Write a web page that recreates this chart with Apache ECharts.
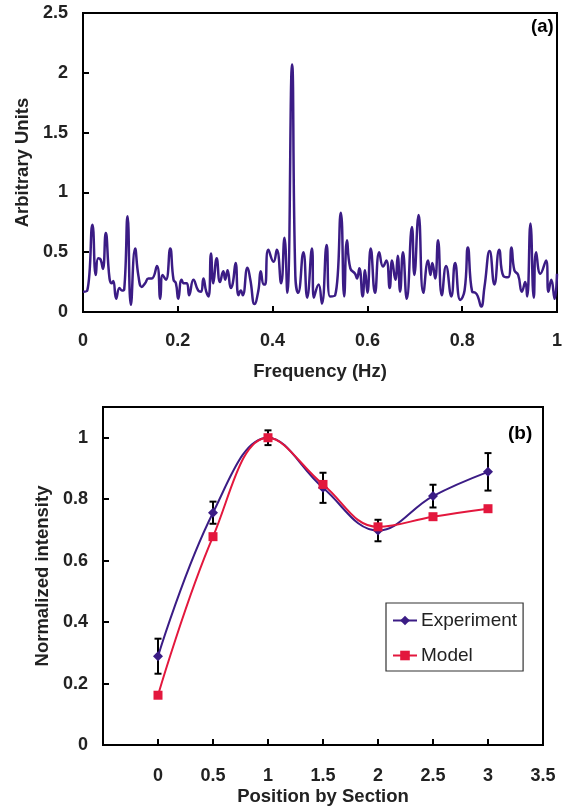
<!DOCTYPE html>
<html><head><meta charset="utf-8">
<script src="https://cdn.jsdelivr.net/npm/echarts@6.0.0/dist/echarts.min.js"></script>
<style>html,body{margin:0;padding:0;background:#fff}#c{width:567px;height:807px}</style>
</head><body><div id="c"></div>
<script>
// (a) spectrum
const freqHz = [0.000,0.009,0.020,0.027,0.032,0.037,0.042,0.048,0.056,0.061,
0.064,0.070,0.077,0.082,0.087,0.094,0.101,0.110,0.117,0.124,
0.131,0.138,0.145,0.156,0.163,0.168,0.175,0.184,0.191,0.196,
0.201,0.208,0.213,0.219,0.224,0.233,0.243,0.249,0.254,0.260,
0.265,0.270,0.275,0.282,0.289,0.296,0.300,0.305,0.312,0.316,
0.322,0.328,0.333,0.337,0.347,0.353,0.362,0.370,0.375,0.381,
0.384,0.391,0.402,0.409,0.418,0.425,0.431,0.441,0.448,0.454,
0.465,0.473,0.483,0.487,0.497,0.504,0.514,0.521,0.532,0.544,
0.551,0.557,0.564,0.574,0.578,0.583,0.590,0.595,0.600,0.607,
0.616,0.625,0.633,0.640,0.647,0.652,0.659,0.664,0.669,0.675,
0.683,0.694,0.699,0.708,0.718,0.728,0.733,0.737,0.743,0.749,
0.757,0.766,0.777,0.785,0.796,0.805,0.812,0.821,0.828,0.833,
0.840,0.847,0.858,0.868,0.878,0.887,0.897,0.904,0.910,0.918,
0.926,0.933,0.937,0.944,0.951,0.956,0.965,0.977,0.982,0.988,
0.995,1.000];
const amplitude = [0.17,0.18,0.73,0.31,0.45,0.44,0.36,0.66,0.28,0.24,
0.26,0.11,0.20,0.18,0.19,0.80,0.06,0.53,0.30,0.21,
0.24,0.28,0.28,0.385,0.11,0.31,0.27,0.53,0.27,0.24,
0.11,0.27,0.24,0.24,0.14,0.27,0.18,0.17,0.28,0.17,
0.13,0.49,0.24,0.45,0.25,0.34,0.27,0.35,0.20,0.24,
0.41,0.14,0.18,0.14,0.37,0.27,0.067,0.18,0.34,0.23,
0.23,0.52,0.42,0.52,0.24,0.62,0.16,2.07,0.30,0.16,
0.50,0.12,0.53,0.12,0.23,0.07,0.56,0.13,0.14,0.83,
0.13,0.60,0.365,0.32,0.28,0.365,0.13,0.35,0.16,0.53,
0.16,0.50,0.38,0.43,0.20,0.43,0.27,0.47,0.17,0.50,
0.11,0.71,0.31,0.81,0.16,0.43,0.31,0.41,0.28,0.60,
0.14,0.385,0.13,0.41,0.10,0.18,0.54,0.17,0.16,0.13,
0.045,0.21,0.51,0.23,0.52,0.30,0.29,0.54,0.35,0.31,
0.17,0.25,0.13,0.74,0.12,0.50,0.32,0.43,0.17,0.27,
0.11,0.32];

// (b) normalized intensity
const positions = [0, 0.5, 1, 1.5, 2, 2.5, 3];
const experiment = [0.289, 0.756, 1.0, 0.837, 0.698, 0.810, 0.889];
const experimentErr = [0.057, 0.036, 0.024, 0.049, 0.035, 0.037, 0.061];
const model = [0.162, 0.678, 1.0, 0.848, 0.710, 0.743, 0.769];

const PURPLE = '#3b1c85';
const RED = '#e3173d';
const TXT = '#222';
const FONT = 'Liberation Sans, Arial, sans-serif';

const chart = echarts.init(document.getElementById('c'), null, {renderer: 'canvas'});

const tickLabel = {color: TXT, fontFamily: FONT, fontWeight: 'bold', fontSize: 18};
const nameStyle = {color: TXT, fontFamily: FONT, fontWeight: 'bold', fontSize: 18.5};
const axLine = {show: true, onZero: false, lineStyle: {color: '#000', width: 2}};
const axTick = {show: true, inside: true, length: 6, lineStyle: {color: '#000', width: 2}};

chart.setOption({
  animation: false,
  backgroundColor: '#fff',
  title: [
    {text: '(a)', left: 531, top: 17, padding: 0, textStyle: {color: '#000', fontFamily: FONT, fontWeight: 'bold', fontSize: 18.5}},
    {text: '(b)', left: 508, top: 424, padding: 0, textStyle: {color: '#000', fontFamily: FONT, fontWeight: 'bold', fontSize: 19}}
  ],
  legend: {
    data: ['Experiment', 'Model'],
    orient: 'vertical',
    left: 386, top: 603,
    padding: [8, 6, 6, 6],
    itemWidth: 24, itemHeight: 12,
    itemGap: 16,
    borderColor: '#333', borderWidth: 1.2, borderRadius: 0,
    backgroundColor: '#fff',
    textStyle: {color: TXT, fontFamily: FONT, fontSize: 19, padding: [0, 0, 0, -1]}
  },
  grid: [
    {left: 83, top: 13, width: 474, height: 299, show: true, borderColor: '#000', borderWidth: 2, containLabel: false},
    {left: 103, top: 407, width: 440, height: 339, show: true, borderColor: '#000', borderWidth: 2, containLabel: false}
  ],
  xAxis: [
    {type: 'value', gridIndex: 0, min: 0, max: 1, interval: 0.2,
     name: 'Frequency (Hz)', nameLocation: 'middle', nameGap: 50, nameTextStyle: nameStyle,
     axisLine: axLine, axisTick: axTick, splitLine: {show: false},
     axisLabel: Object.assign({margin: 20}, tickLabel)},
    {type: 'value', gridIndex: 1, min: -0.5, max: 3.5, interval: 0.5,
     name: 'Position by Section', nameLocation: 'middle', nameGap: 42, nameTextStyle: nameStyle,
     axisLine: axLine, axisTick: axTick, splitLine: {show: false},
     axisLabel: Object.assign({margin: 22, showMinLabel: false}, tickLabel)}
  ],
  yAxis: [
    {type: 'value', gridIndex: 0, min: 0, max: 2.5, interval: 0.5,
     name: 'Arbitrary Units', nameLocation: 'middle', nameGap: 49, nameTextStyle: nameStyle,
     axisLine: axLine, axisTick: axTick, splitLine: {show: false},
     axisLabel: Object.assign({margin: 15}, tickLabel)},
    {type: 'value', gridIndex: 1, min: 0, max: 1.1, interval: 0.2,
     name: 'Normalized intensity', nameLocation: 'middle', nameGap: 51, nameTextStyle: nameStyle,
     axisLine: axLine, axisTick: axTick, splitLine: {show: false},
     axisLabel: Object.assign({margin: 15, showMaxLabel: false,
       formatter: v => (Math.abs(v - 1.1) < 1e-6 ? '' : String(Math.round(v * 10) / 10))}, tickLabel)}
  ],
  series: [
    {type: 'line', name: 'Spectrum', xAxisIndex: 0, yAxisIndex: 0,
     data: freqHz.map((f, i) => [f, amplitude[i]]),
     smooth: 0.5, showSymbol: false, lineStyle: {color: PURPLE, width: 2.5}, itemStyle: {color: PURPLE}, z: 2},
    {type: 'custom', name: 'Error', xAxisIndex: 1, yAxisIndex: 1,
     data: positions.map((p, i) => [p, experiment[i] - experimentErr[i], experiment[i] + experimentErr[i]]),
     encode: {x: 0, y: [1, 2]},
     renderItem: (params, api) => {
       const x = api.value(0);
       const lo = api.coord([x, api.value(1)]);
       const hi = api.coord([x, api.value(2)]);
       const w = 3.5;
       const style = {stroke: '#000', lineWidth: 2};
       return {type: 'group', children: [
         {type: 'line', shape: {x1: lo[0], y1: lo[1], x2: hi[0], y2: hi[1]}, style: style},
         {type: 'line', shape: {x1: lo[0] - w, y1: lo[1], x2: lo[0] + w, y2: lo[1]}, style: style},
         {type: 'line', shape: {x1: hi[0] - w, y1: hi[1], x2: hi[0] + w, y2: hi[1]}, style: style}
       ]};
     }, z: 2},
    {type: 'line', name: 'Experiment', xAxisIndex: 1, yAxisIndex: 1,
     data: positions.map((p, i) => [p, experiment[i]]),
     smooth: 0.4, symbol: 'diamond', symbolSize: 10, showSymbol: true,
     lineStyle: {color: PURPLE, width: 2}, itemStyle: {color: PURPLE}, z: 3},
    {type: 'line', name: 'Model', xAxisIndex: 1, yAxisIndex: 1,
     data: positions.map((p, i) => [p, model[i]]),
     smooth: 0.4, symbol: 'rect', symbolSize: 9, showSymbol: true,
     lineStyle: {color: RED, width: 2}, itemStyle: {color: RED}, z: 4}
  ]
});
</script>
</body></html>
